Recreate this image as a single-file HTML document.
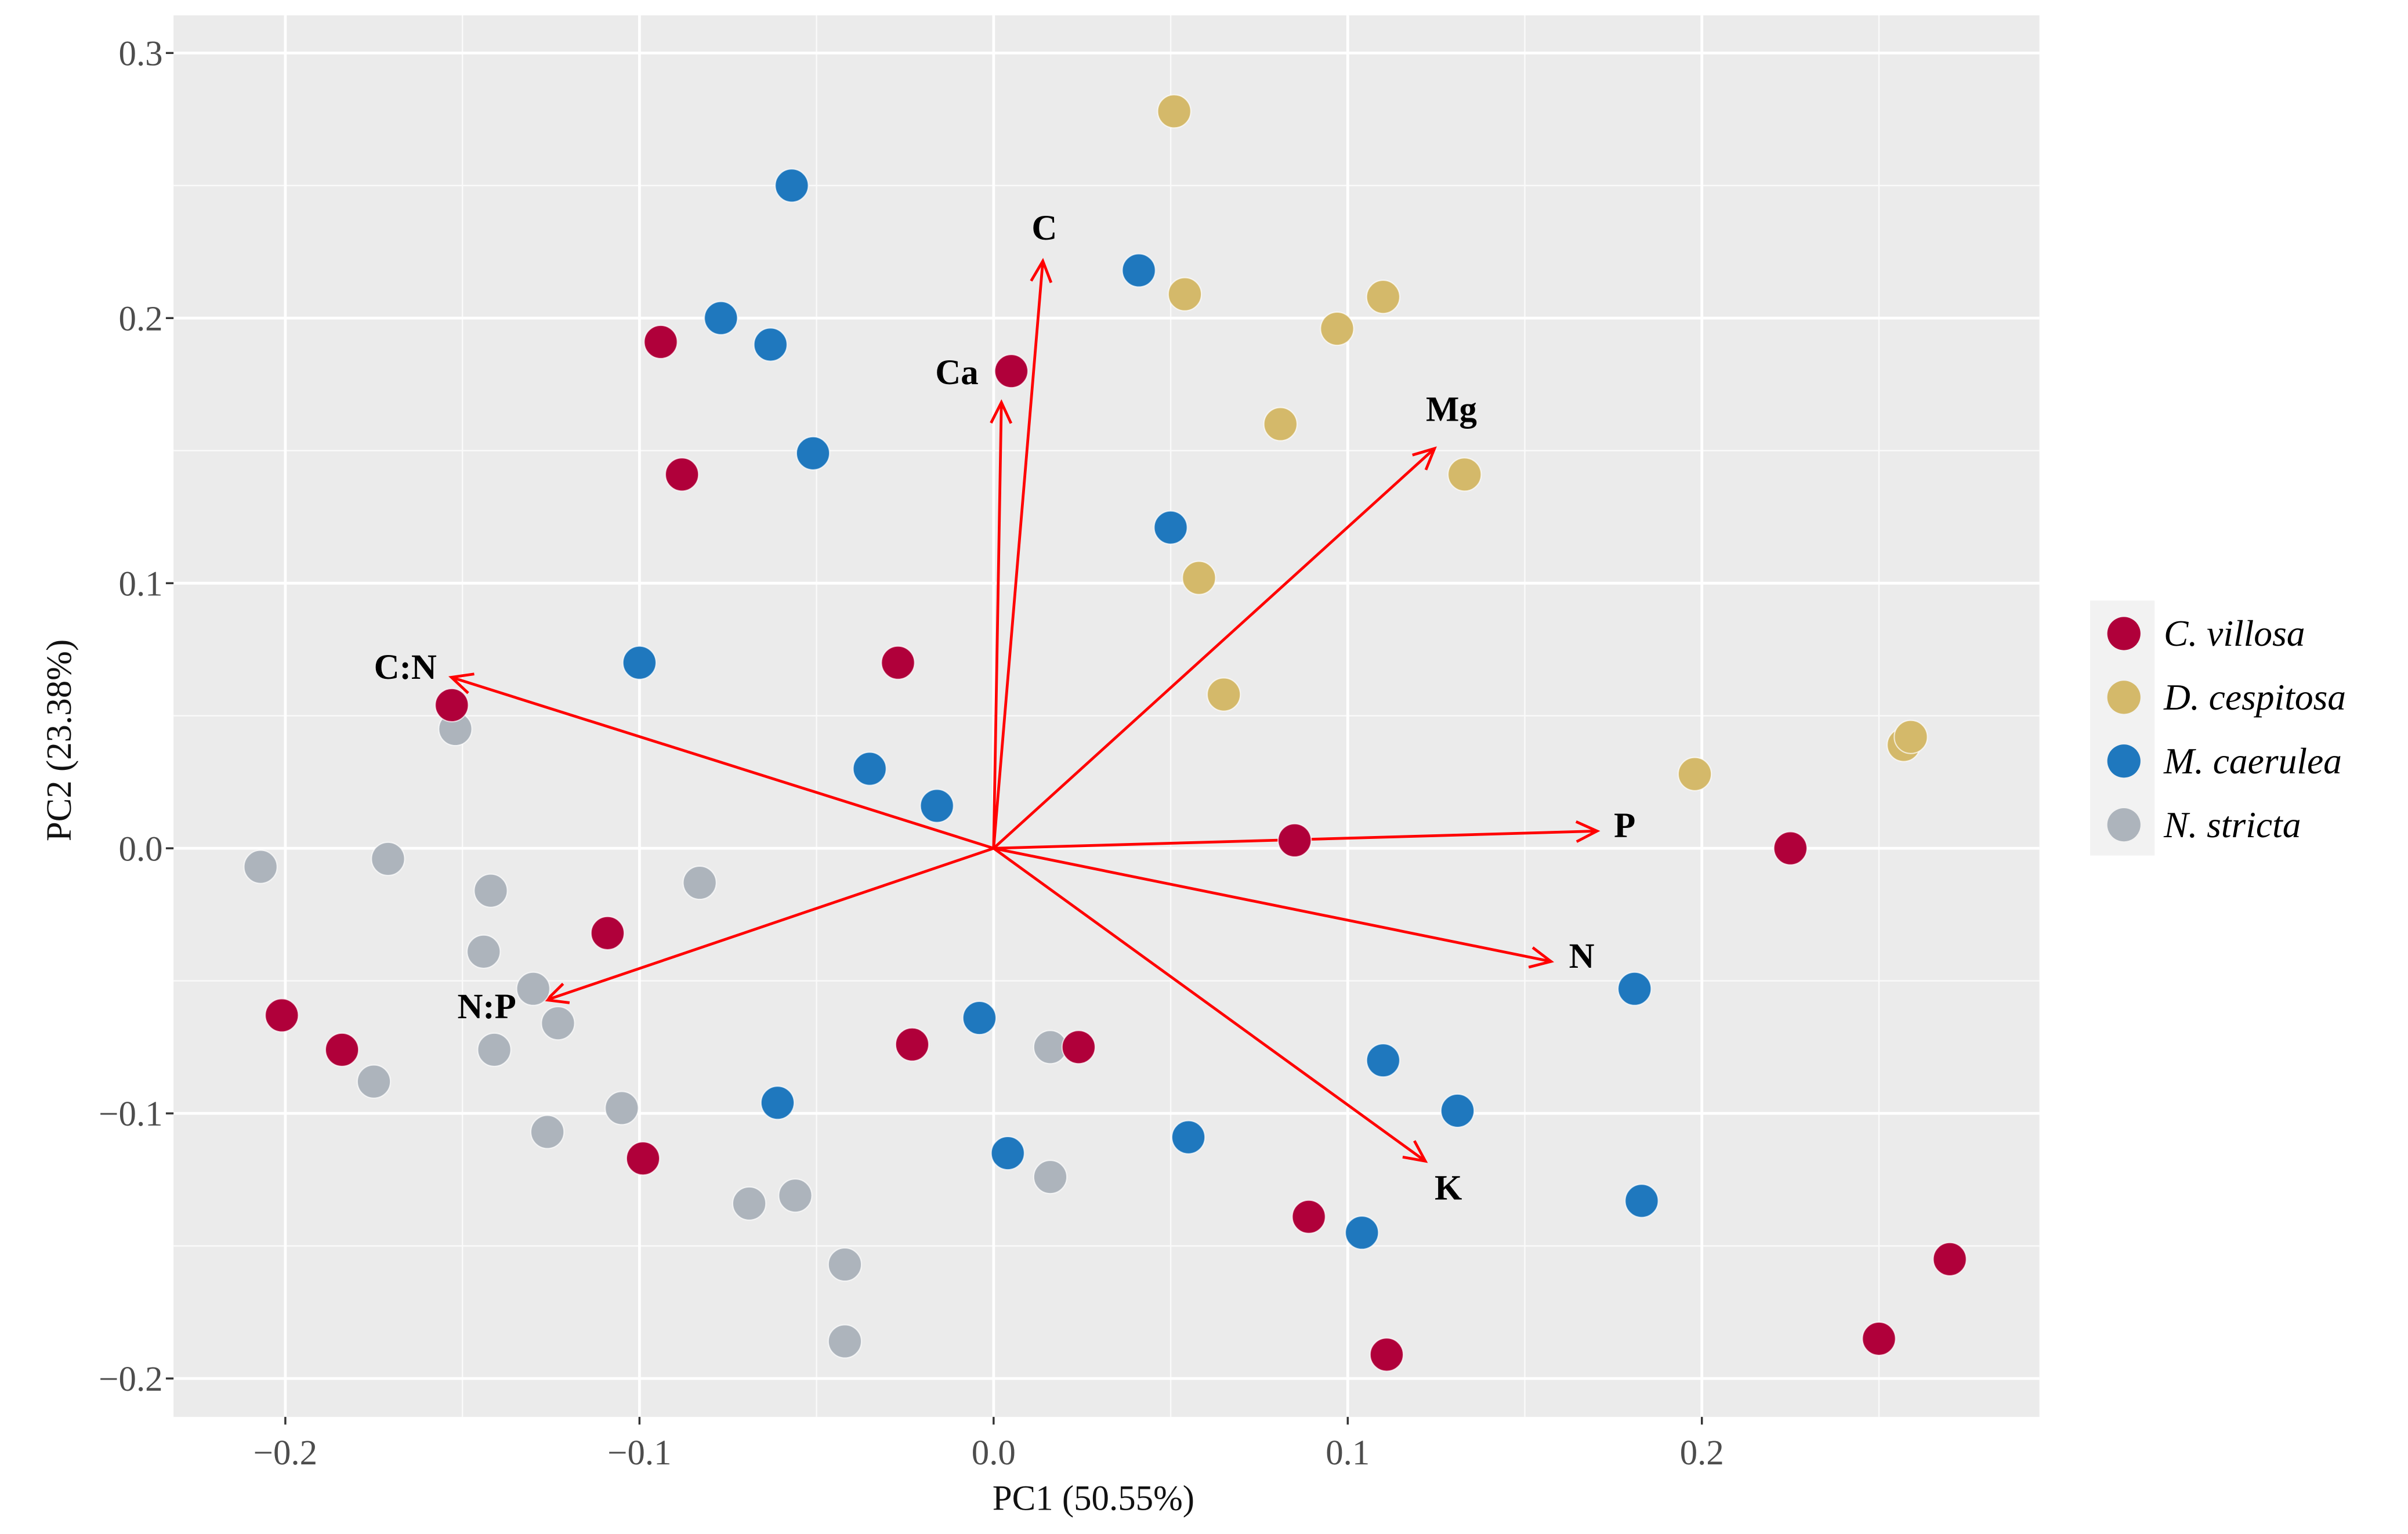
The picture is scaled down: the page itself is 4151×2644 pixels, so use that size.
<!DOCTYPE html>
<html><head><meta charset="utf-8"><style>
html,body{margin:0;padding:0;background:#fff;}
svg{display:block;}
text{font-family:"Liberation Serif",serif;}
</style></head><body>
<svg id="chart" width="4151" height="2644" viewBox="0 0 1568 998.75" xmlns="http://www.w3.org/2000/svg">
<rect x="113" y="10" width="1215" height="912.5" fill="#ebebeb"/>
<g id="grid"></g>
<g id="axes"></g>
<g id="arrows"></g>
<g id="points"></g>
<text x="712" y="983" font-size="23" text-anchor="middle" fill="#111">PC1 (50.55%)</text>
<text transform="translate(46,482) rotate(-90)" font-size="23" text-anchor="middle" fill="#111">PC2 (23.38%)</text>
<g id="legend">
<rect x="1361" y="391" width="42" height="166" fill="#f2f2f2"/>
</g>
</svg>
<script>
const xTicks = [-0.2, -0.1, 0.0, 0.1, 0.2];
const yTicks = [-0.2, -0.1, 0.0, 0.1, 0.2, 0.3];
const xTickLabels = ["\u22120.2", "\u22120.1", "0.0", "0.1", "0.2"];
const yTickLabels = ["\u22120.2", "\u22120.1", "0.0", "0.1", "0.2", "0.3"];
const speciesNames = ["C. villosa", "D. cespitosa", "M. caerulea", "N. stricta"];
const speciesColors = ["#b0003a", "#d4b96a", "#1f78be", "#adb4bc"];
const villosaX = [-0.094,-0.088,0.005,-0.027,-0.153,-0.109,-0.201,-0.184,-0.099,-0.023,0.024,0.085,0.225,0.089,0.111,0.250,0.270];
const villosaY = [0.191,0.141,0.180,0.070,0.054,-0.032,-0.063,-0.076,-0.117,-0.074,-0.075,0.003,0.000,-0.139,-0.191,-0.185,-0.155];
const cespitosaX = [0.051,0.054,0.097,0.110,0.081,0.133,0.058,0.065,0.198,0.257,0.259];
const cespitosaY = [0.278,0.209,0.196,0.208,0.160,0.141,0.102,0.058,0.028,0.039,0.042];
const caeruleaX = [-0.057,-0.077,-0.063,-0.051,0.041,0.050,-0.100,-0.035,-0.016,-0.004,-0.061,0.004,0.055,0.104,0.110,0.131,0.181,0.183];
const caeruleaY = [0.250,0.200,0.190,0.149,0.218,0.121,0.070,0.030,0.016,-0.064,-0.096,-0.115,-0.109,-0.145,-0.080,-0.099,-0.053,-0.133];
const strictaX = [-0.152,-0.207,-0.171,-0.142,-0.144,-0.083,-0.130,-0.123,-0.141,-0.175,-0.105,-0.126,-0.069,-0.056,-0.042,-0.042,0.016,0.016];
const strictaY = [0.045,-0.007,-0.004,-0.016,-0.039,-0.013,-0.053,-0.066,-0.076,-0.088,-0.098,-0.107,-0.134,-0.131,-0.157,-0.186,-0.075,-0.124];
const loadingNames = ["C", "Ca", "Mg", "C:N", "N:P", "P", "N", "K"];
const loadingX = [0.0139, 0.0022, 0.1245, -0.1531, -0.1262, 0.1704, 0.1574, 0.1219];
const loadingY = [0.2215, 0.1682, 0.1508, 0.0645, -0.0572, 0.0065, -0.0427, -0.1180];

const NS = "http://www.w3.org/2000/svg";
const PL = 113, PR = 1328, PT = 10, PB = 922.5;
function sx(v){ return 647 + v * 2306; }
function sy(v){ return 552.3 - v * 1726; }
function mk(tag, attrs, parent){
  const e = document.createElementNS(NS, tag);
  for (const k in attrs) e.setAttribute(k, attrs[k]);
  parent.appendChild(e);
  return e;
}
const grid = document.getElementById('grid');
const axes = document.getElementById('axes');
for (let i = 0; i < xTicks.length - 1; i++) {
  const m = (xTicks[i] + xTicks[i+1]) / 2;
  const l = mk('line', {x1: sx(m), x2: sx(m), y1: PT, y2: PB, stroke: '#fafafa', 'stroke-width': 0.9}, grid);
  
  
}
for (const m of [-0.25, xTicks[xTicks.length-1] + 0.05]) {
  if (sx(m) > PL && sx(m) < PR) {
    const l = mk('line', {x1: sx(m), x2: sx(m), y1: PT, y2: PB, stroke: '#fafafa', 'stroke-width': 0.9}, grid);
    
    
  }
}
for (let i = 0; i < yTicks.length - 1; i++) {
  const m = (yTicks[i] + yTicks[i+1]) / 2;
  const l = mk('line', {x1: PL, x2: PR, y1: sy(m), y2: sy(m), stroke: '#fafafa', 'stroke-width': 0.9}, grid);
  
  
}
xTicks.forEach(function(v, i){
  const l = mk('line', {x1: sx(v), x2: sx(v), y1: PT, y2: PB, stroke: '#ffffff', 'stroke-width': 1.8}, grid);
  
  
  const t = mk('line', {x1: sx(v), x2: sx(v), y1: PB, y2: PB + 5, stroke: '#333', 'stroke-width': 1.3}, axes);
  
  
  const tx = mk('text', {x: sx(v), y: PB + 31, 'font-size': 23, 'text-anchor': 'middle', fill: '#4d4d4d'}, axes);
  tx.textContent = xTickLabels[i];
  
  
});
yTicks.forEach(function(v, i){
  const l = mk('line', {x1: PL, x2: PR, y1: sy(v), y2: sy(v), stroke: '#ffffff', 'stroke-width': 1.8}, grid);
  
  
  const t = mk('line', {x1: PL - 5, x2: PL, y1: sy(v), y2: sy(v), stroke: '#333', 'stroke-width': 1.3}, axes);
  
  
  const tx = mk('text', {x: PL - 7, y: sy(v) + 8, 'font-size': 23, 'text-anchor': 'end', fill: '#4d4d4d'}, axes);
  tx.textContent = yTickLabels[i];
  
  
});
const arrows = document.getElementById('arrows');
const labelOffsets = [[1,-22],[-29,-20],[11,-26],[-30,-7],[-39,4],[18,-4],[20,-4],[15,17]];
loadingNames.forEach(function(n, i){
  const x0 = sx(0), y0 = sy(0), x1 = sx(loadingX[i]), y1 = sy(loadingY[i]);
  const g = mk('g', {}, arrows);
  
  
  mk('line', {x1: x0, y1: y0, x2: x1, y2: y1, stroke: '#ff0000', 'stroke-width': 1.8}, g);
  const a = Math.atan2(y1 - y0, x1 - x0), L = 15, s = 0.45;
  const p1 = [x1 - L*Math.cos(a - s), y1 - L*Math.sin(a - s)];
  const p2 = [x1 - L*Math.cos(a + s), y1 - L*Math.sin(a + s)];
  mk('polyline', {points: p1.join(',') + ' ' + x1 + ',' + y1 + ' ' + p2.join(','), fill: 'none', stroke: '#ff0000', 'stroke-width': 1.8}, g);
  const t = mk('text', {x: x1 + labelOffsets[i][0], y: y1 + labelOffsets[i][1] + 8, 'font-size': 23, 'font-weight': 'bold', 'text-anchor': 'middle', fill: '#000'}, arrows);
  t.textContent = n;
  
  
});
const pts = document.getElementById('points');
const series = [[villosaX, villosaY], [cespitosaX, cespitosaY], [caeruleaX, caeruleaY], [strictaX, strictaY]];
const order = [3, 1, 2, 0];
order.forEach(function(si){
  const xs = series[si][0], ys = series[si][1];
  for (let i = 0; i < xs.length; i++) {
    const c = mk('circle', {cx: sx(xs[i]), cy: sy(ys[i]), r: 10.8, fill: speciesColors[si], stroke: '#ffffff', 'stroke-width': 0.8, 'stroke-opacity': 0.7}, pts);
    
    
  }
});
const lg = document.getElementById('legend');
const legY = [412.5, 454, 495.5, 537];
speciesNames.forEach(function(n, i){
  const g = mk('g', {}, lg);
  
  
  mk('circle', {cx: 1383, cy: legY[i], r: 10.8, fill: speciesColors[i]}, g);
  const t = mk('text', {x: 1409, y: legY[i] + 8, 'font-size': 24, 'font-style': 'italic', fill: '#000'}, g);
  t.textContent = n;
});
</script>
</body></html>
